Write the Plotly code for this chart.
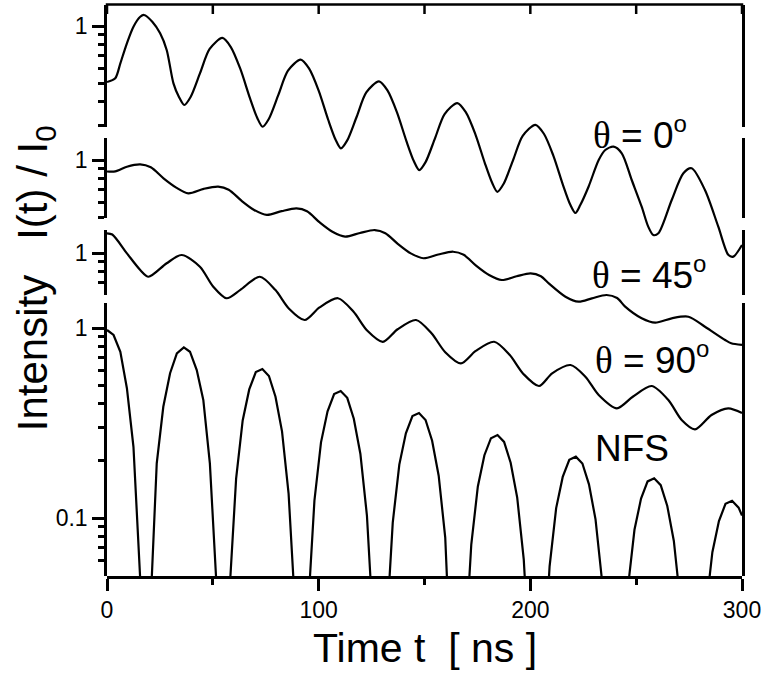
import plotly.graph_objects as go

# ---------------- data ----------------
# time axis [ns]
t_theta0 = [0, 3.9, 6.3, 9.4, 12.5, 15.7, 17.5, 21.5, 25.1, 28.2, 31.4, 34.0,
            36.5, 39.5, 44.0, 48.5, 54.5, 58.5, 63.0, 67.5, 71.0,
            73.5, 76.5, 81.0, 85.5, 91.5, 95.5, 100.0, 104.5, 108.0,
            110.5, 113.5, 118.0, 122.5, 128.5, 132.5, 137.0, 141.5, 145.0,
            147.5, 150.5, 155.0, 159.5, 165.5, 169.5, 174.0, 178.5, 182.0,
            184.4, 187.4, 191.9, 196.4, 202.4, 206.4, 210.9, 215.4, 218.9,
            221.3, 223.6, 227.5, 232.3, 235.4, 239.3, 243.2, 247.9, 252.6, 255.7,
            258.1, 260.5, 266.8, 272.3, 276.2, 282.5, 288.8, 293.6, 295.9, 300.0]
i_theta0 = [0.507, 0.531, 0.636, 0.811, 0.992, 1.119, 1.143, 1.050, 0.915, 0.748, 0.499, 0.423,
            0.384, 0.423, 0.566, 0.757, 0.865, 0.775, 0.594, 0.418, 0.328,
            0.295, 0.325, 0.435, 0.582, 0.665, 0.596, 0.457, 0.321, 0.252,
            0.227, 0.250, 0.334, 0.447, 0.511, 0.458, 0.351, 0.247, 0.194,
            0.1744, 0.1922, 0.257, 0.344, 0.393, 0.352, 0.270, 0.190, 0.149,
            0.1341, 0.1477, 0.1976, 0.264, 0.302, 0.271, 0.2074, 0.1459, 0.1145,
            0.1037, 0.1142, 0.1426, 0.1971, 0.2225, 0.2316, 0.2138, 0.1547, 0.1119, 0.0879,
            0.0794, 0.0811, 0.1214, 0.1678, 0.1783, 0.137, 0.0879, 0.0623, 0.0611, 0.0704]

t_theta45 = [0, 3.9, 9.4, 15.7, 20.7, 26.7, 32.7, 38.4, 45.7, 52.5,
             57.5, 63.5, 69.5, 75.5, 82.5, 89.5, 94.5, 100.5, 106.5, 112.5, 119.5,
             126.5, 131.5, 137.5, 143.5, 149.5, 156.5, 163.5, 168.5, 174.5, 180.5, 186.5, 193.5,
             200.1, 205.0, 208.7, 216.6, 222.8, 229.1, 236.0, 241.0, 244.8, 252.6, 259.0, 266.8,
             274.7, 282.5, 292.0, 294.9, 300.0]
i_theta45 = [0.870, 0.871, 0.922, 0.949, 0.915, 0.801, 0.716, 0.668, 0.705, 0.724,
             0.698, 0.611, 0.546, 0.514, 0.538, 0.556, 0.537, 0.469, 0.419, 0.395, 0.413,
             0.428, 0.412, 0.361, 0.3225, 0.304, 0.318, 0.329, 0.317, 0.277, 0.248, 0.2336, 0.2443,
             0.2533, 0.2443, 0.2244, 0.1908, 0.1796, 0.1871, 0.1948, 0.1878, 0.169, 0.1468, 0.1392, 0.1468,
             0.1497, 0.1326, 0.1129, 0.1085, 0.1063]

t_theta90 = [0, 2.5, 9.4, 15.7, 19.6, 28.2, 35.3, 43.9, 50.2, 56.5,
             63.0, 72.2, 79.5, 86.0, 93.4, 100.4, 109.1, 116.4, 122.9, 130.3,
             137.3, 146.0, 153.3, 159.8, 167.2, 174.2, 182.9, 190.2, 196.7, 204.1,
             210.3, 219.0, 226.0, 232.3, 240.9, 248.4, 257.3, 265.2, 271.5, 277.8,
             285.6, 293.5, 300.0]
i_theta90 = [1.270, 1.251, 0.996, 0.814, 0.750, 0.883, 0.976, 0.847, 0.665, 0.578,
             0.640, 0.750, 0.640, 0.509, 0.444, 0.517, 0.578, 0.492, 0.391, 0.341,
             0.397, 0.444, 0.378, 0.3005, 0.2624, 0.3053, 0.341, 0.291, 0.231, 0.1995,
             0.2327, 0.2573, 0.2233, 0.1789, 0.1523, 0.1752, 0.1995, 0.1684, 0.1322, 0.118,
             0.1404, 0.1523, 0.1438]

t_nfs = [0, 3.1, 6.3, 9.4, 12.5, 15.6, 18.2,
         20.5, 23.5, 26.6, 29.8, 33.0, 36.3, 39.2, 42.4, 45.5, 48.6, 51.7, 54.8,
         57.9, 61.0, 64.1, 67.2, 70.3, 73.4, 76.5, 79.6, 82.7, 85.8, 88.9, 91.9,
         94.9, 98.0, 101.1, 104.2, 107.3, 110.4, 113.5, 116.6, 119.7, 122.8, 125.9, 128.9,
         131.9, 135.0, 138.1, 141.2, 144.3, 147.4, 150.5, 153.6, 156.7, 159.8, 162.9, 165.9,
         169.0, 172.1, 175.2, 178.3, 181.4, 184.5, 187.6, 190.7, 193.8, 196.9, 200.0, 202.9,
         206.0, 209.1, 212.2, 215.3, 218.4, 221.5, 224.6, 227.7, 230.8, 233.9, 237.0, 240.0,
         243.0, 246.1, 249.2, 252.3, 255.4, 258.5, 261.6, 264.7, 267.8, 270.9, 274.0, 277.0,
         279.8, 282.9, 286.0, 289.1, 292.2, 295.3, 298.4, 300.0]
i_nfs = [0.976, 0.919, 0.750, 0.482, 0.237, 0.050, 0.002,
         0.033, 0.194, 0.385, 0.578, 0.736, 0.790, 0.750, 0.601, 0.418, 0.194, 0.045, 0.002,
         0.0413, 0.161, 0.326, 0.475, 0.586, 0.608, 0.559, 0.435, 0.285, 0.134, 0.0328, 0.002,
         0.0317, 0.1235, 0.250, 0.364, 0.449, 0.466, 0.429, 0.333, 0.218, 0.103, 0.0252, 0.002,
         0.0243, 0.0946, 0.191, 0.279, 0.344, 0.357, 0.328, 0.255, 0.167, 0.0789, 0.0193, 0.002,
         0.0186, 0.0725, 0.1465, 0.214, 0.263, 0.2734, 0.2515, 0.1955, 0.128, 0.0604, 0.0148, 0.002,
         0.0143, 0.0557, 0.1127, 0.1645, 0.2025, 0.2103, 0.1935, 0.1504, 0.0984, 0.0465, 0.0114, 0.002,
         0.011, 0.0429, 0.0867, 0.1265, 0.1558, 0.1618, 0.1489, 0.1157, 0.0757, 0.0358, 0.0087, 0.002,
         0.0084, 0.0327, 0.0661, 0.0964, 0.1187, 0.1233, 0.1134, 0.103]

x_ticks = [0, 100, 200, 300]
x_minor = [50, 150, 250]
THETA = "<span style=\"font-family:'Liberation Serif'\">\u03b8</span>"
DEG = "<sup><span style=\"font-size:24px\">o</span></sup>"
labels = [THETA + " = 0" + DEG, THETA + " = 45" + DEG, THETA + " = 90" + DEG, "NFS"]

# ---------------- layout geometry (pixels) ----------------
W, H = 766, 677
ML, MR, MT, MB = 107, 22, 5, 101
PW, PH = W - ML - MR, H - MT - MB
BOT = H - MB          # pixel row of the bottom axis
DEC = 190.0           # pixels per decade on every panel

# panel: (top px, bottom px, px of the value 1, major ticks, minor ticks)
panels = [
    (MT, 127, 26, [1], [0.3, 0.4, 0.5, 0.6, 0.7, 0.8, 0.9]),
    (138, 218, 160, [1], [0.5, 0.6, 0.7, 0.8, 0.9]),
    (230, 295, 253, [1], [0.6, 0.7, 0.8, 0.9]),
    (303, 576, 328, [0.1, 1], [0.06, 0.07, 0.08, 0.09, 0.2, 0.3, 0.4, 0.5, 0.6, 0.7, 0.8, 0.9]),
]
REF_ONE = panels[3][2]

def yfrac(px):
    return (BOT - px) / PH

def xfrac(px):
    return (px - ML) / PW

def yval(px):
    # value of the hidden main log axis at pixel row px
    return 10 ** ((REF_ONE - px) / DEC)

FONT = "Liberation Sans, Arial, sans-serif"
LW = 2.5
TRANSPARENT = 'rgba(0,0,0,0)'

fig = go.Figure()

# empty traces so every panel axis gets drawn (added first, so curves sit on top)
for k in range(len(panels)):
    fig.add_trace(go.Scatter(x=[None], y=[None], xaxis='x', yaxis='y%d' % (k + 2),
                             showlegend=False, hoverinfo='skip'))

series = [(t_theta0, i_theta0, 'spline'), (t_theta45, i_theta45, 'spline'),
          (t_theta90, i_theta90, 'spline'), (t_nfs, i_nfs, 'linear')]
for (tt, ii, shp), pan in zip(series, panels):
    factor = 10 ** ((REF_ONE - pan[2]) / DEC)
    line = dict(color='black', width=2.2, shape=shp)
    if shp == 'spline':
        line['smoothing'] = 0.8
    fig.add_trace(go.Scatter(x=tt, y=[v * factor for v in ii], mode='lines', line=line,
                             xaxis='x', yaxis='y', showlegend=False, hoverinfo='skip'))

# inward tick marks hanging from the top frame, drawn on the x scale
tx, ty = [], []
for xv in sorted(x_ticks + x_minor):
    tx += [xv, xv, None]
    ty += [yval(MT - 2), yval(MT + 9), None]
fig.add_trace(go.Scatter(x=tx, y=ty, mode='lines', line=dict(color='black', width=LW),
                         xaxis='x', yaxis='y', showlegend=False, hoverinfo='skip'))

layout_axes = {}
for k, (top, bot, one, major, minor) in enumerate(panels):
    name = 'yaxis%d' % (k + 2)
    layout_axes[name] = dict(
        type='log', domain=[yfrac(bot), yfrac(top)],
        range=[(one - bot) / DEC, (one - top) / DEC],
        anchor='x', showline=True, mirror=True, linecolor='black', linewidth=LW,
        ticks='outside', ticklen=12, tickwidth=LW, tickcolor='black',
        tickmode='array', tickvals=major, ticktext=[('%g' % v) for v in major],
        minor=dict(tickmode='array', tickvals=minor, ticks='outside', ticklen=6,
                   tickwidth=LW, tickcolor='black', showgrid=False),
        tickfont=dict(family=FONT, size=23, color='black'),
        showgrid=False, zeroline=False)

annotations = [
    dict(text="Time t\u00a0\u00a0[ ns ]", x=0.5, y=yfrac(648), xref='paper', yref='paper',
         xanchor='center', yanchor='middle', showarrow=False,
         font=dict(family=FONT, size=41, color='black')),
    dict(text="Intensity\u00a0\u00a0 I(t) / I<sub>0</sub>", x=xfrac(35), y=yfrac(278),
         xref='paper', yref='paper', xanchor='center', yanchor='middle', textangle=-90,
         showarrow=False, font=dict(family=FONT, size=42, color='black')),
]
label_pos = [(593, 133), (592, 273), (595, 358), (595, 448)]
for txt, (px, py) in zip(labels, label_pos):
    annotations.append(dict(text=txt, x=xfrac(px), y=yfrac(py), xref='paper', yref='paper',
                            xanchor='left', yanchor='middle', showarrow=False,
                            font=dict(family=FONT, size=37, color='black')))

# top frame line
shapes = [dict(type='line', xref='paper', yref='paper', x0=-LW / 2 / PW, x1=1 + LW / 2 / PW,
               y0=1 + 0.5 / PH, y1=1 + 0.5 / PH, line=dict(color='black', width=LW),
               layer='above')]

fig.update_layout(
    width=W, height=H, margin=dict(l=ML, r=MR, t=MT, b=MB, pad=0),
    paper_bgcolor='white', plot_bgcolor=TRANSPARENT, showlegend=False,
    xaxis=dict(domain=[0, 1], range=[0, 300], anchor='y', showline=True,
               linecolor='black',
               linewidth=LW, ticks='outside', ticklen=12, tickwidth=LW, tickcolor='black',
               tickmode='array', tickvals=x_ticks,
               minor=dict(tickmode='array', tickvals=x_minor, ticks='outside', ticklen=6,
                          tickwidth=LW, tickcolor='black', showgrid=False),
               tickfont=dict(family=FONT, size=23, color='black'),
               showgrid=False, zeroline=False),
    yaxis=dict(type='log', domain=[0, 1],
               range=[(REF_ONE - BOT) / DEC, (REF_ONE - MT) / DEC],
               anchor='x', visible=False, showgrid=False, zeroline=False),
    annotations=annotations,
    shapes=shapes,
    **layout_axes,
)

fig.write_html("out.html")
